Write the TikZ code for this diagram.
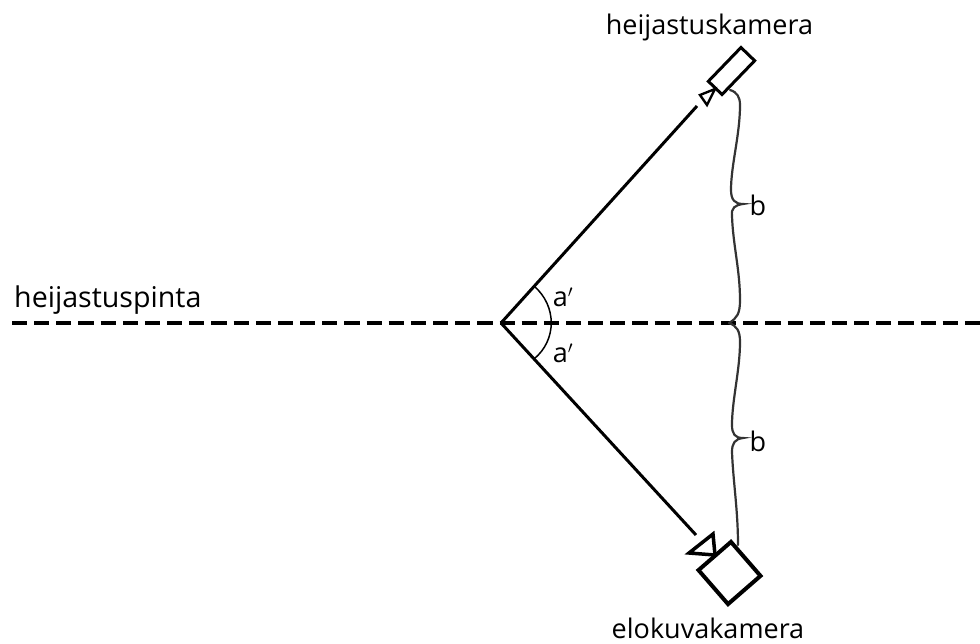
\documentclass[tikz,border=0pt]{standalone}
\usepackage{fontspec}
\setmainfont{Open Sans}
\usetikzlibrary{positioning}

\begin{document}
\begin{tikzpicture}[
        x=1pt,y=-1pt,
        every node/.style={font=\fontsize{27}{32}\selectfont,inner sep=0pt},
        camerabody/.style={draw,line join=miter,transform shape},
        lens/.style={draw,line join=miter},
        ray/.style={line width=3pt},
        brace/.style={line width=2.2pt,line cap=round,color=black!80}
        ]
        \useasboundingbox (0,0) rectangle (980,643);

        \coordinate (o) at (501,323);
        \coordinate (w) at (12,323);
        \coordinate (e) at (980,323);
        \coordinate (top_end) at (697,106);
        \coordinate (bot_end) at (696,535);

        % kamerat
        \node[camerabody,rotate=46,minimum width=47pt,minimum height=19pt,line width=3pt] (top_cam) at (731.5,71) {};
        \node[camerabody,rotate=-49,minimum width=45pt,minimum height=43pt,line width=4pt] (bot_cam) at (729.5,573) {};
        \draw[lens,line width=2.4pt] (700,95) -- (707,105) -- (715,89) -- cycle;
        \draw[lens,line width=3.5pt] (689,553) -- (713,534) -- (715,555) -- cycle;

        % tekstit
        \node (top_lbl) at (709.5,27) {heijastuskamera};
        \node (bot_lbl) at (708,628) {elokuvakamera};
        \node[anchor=west,font=\fontsize{28.6}{34}\selectfont] (surface_lbl) at (14,300) {heijastuspinta};
        \node (a_top) at (563,297) {a$'$};
        \node (a_bot) at (563,353) {a$'$};
        \node (b_top) at (758,205) {b};
        \node (b_bot) at (758,441) {b};

        % viivat
        \draw[line width=3.2pt,dash pattern=on 15.16pt off 7pt] (w) -- (e);
        \draw[ray] (o) -- (top_end);
        \draw[ray] (o) -- (bot_end);
        \draw[line width=1.5pt] (534,286) .. controls (557,306) and (557,340) .. (534,359);

        % aaltosulkeet
        \draw[brace] (730,90) .. controls (737,92) and (740,97) .. (740,105)
                     .. controls (740,135) and (731,165) .. (731,190)
                     .. controls (731,200) and (735,204) .. (743,204)
                     .. controls (735,205) and (731,208) .. (732,216)
                     .. controls (733,245) and (740,270) .. (740,300)
                     .. controls (740,314) and (737,318) .. (729,323);
        \draw[brace] (729,323) .. controls (737,326) and (740,331) .. (740,342)
                     .. controls (740,370) and (732,400) .. (732,425)
                     .. controls (732,434) and (735,438) .. (743,438)
                     .. controls (735,439) and (732,443) .. (732,452)
                     .. controls (733,480) and (738,510) .. (738,545);
\end{tikzpicture}
\end{document}
